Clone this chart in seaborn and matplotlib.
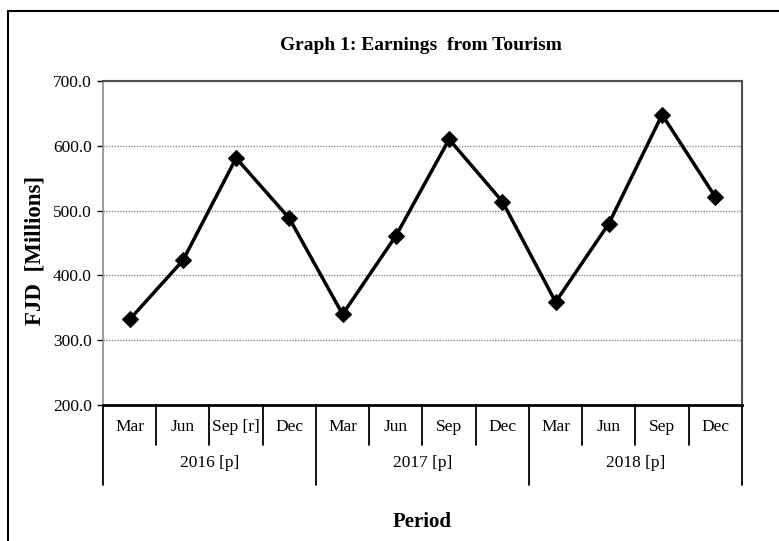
import matplotlib
matplotlib.use('Agg')
import matplotlib.pyplot as plt
import seaborn as sns
import pandas as pd
from matplotlib.patches import Rectangle

months = ["Mar", "Jun", "Sep [r]", "Dec", "Mar", "Jun", "Sep", "Dec", "Mar", "Jun", "Sep", "Dec"]
years = ["2016 [p]", "2017 [p]", "2018 [p]"]
earnings = [332, 423, 581, 488, 340, 461, 610, 514, 359, 480, 648, 521]
yticks = [200, 300, 400, 500, 600, 700]

sns.set_theme(style="white")
plt.rcParams['font.family'] = ['Liberation Serif', 'DejaVu Serif']
plt.rcParams['text.color'] = 'black'
plt.rcParams['xtick.color'] = 'black'
plt.rcParams['ytick.color'] = 'black'
plt.rcParams['xtick.labelcolor'] = 'black'
plt.rcParams['ytick.labelcolor'] = 'black'

W, H = 779, 541
fig = plt.figure(figsize=(W / 100, H / 100), dpi=100)
ax = fig.add_axes([103 / W, 1 - 405 / H, 639 / W, 324 / H])

df = pd.DataFrame({"idx": list(range(len(earnings))), "val": earnings})
sns.lineplot(data=df, x="idx", y="val", ax=ax, color="black", linewidth=2.5,
             marker="D", markersize=8.5, markeredgecolor="black", markerfacecolor="black")

ax.set_xlim(-0.5, len(months) - 0.5)
ax.set_ylim(200, 700)
ax.set_yticks(yticks)
ax.set_yticklabels([f"{v:.1f}" for v in yticks], fontsize=12.5)
ax.yaxis.grid(True, color="#8c8c8c", linestyle=(0, (1, 1)), linewidth=1)
ax.xaxis.grid(False)
ax.set_axisbelow(True)
ax.set_xlabel("")
ax.set_ylabel("")

for s in ["top", "right"]:
    ax.spines[s].set_color("#505050")
    ax.spines[s].set_linestyle((0, (1, 0.7)))
    ax.spines[s].set_linewidth(1.5)
ax.spines["left"].set_color("#8c8c8c")
ax.spines["left"].set_linewidth(1.2)
ax.spines["bottom"].set_color("black")
ax.spines["bottom"].set_linewidth(2)

ax.tick_params(axis="y", length=4, width=1, color="black", pad=4, left=True)
ax.set_xticks(range(len(months)))
ax.set_xticklabels(months, fontsize=12.5)
ax.tick_params(axis="x", length=0, pad=10)

trans = ax.get_xaxis_transform()
month_len = 40 / 324
year_len = 80 / 324
bounds = [i - 0.5 for i in range(len(months) + 1)]
for b in bounds:
    L = year_len if (b + 0.5) % 4 == 0 else month_len
    ax.plot([b, b], [0, -L], transform=trans, color="black", linewidth=1.3, clip_on=False)

for k, y in enumerate(years):
    ax.text(4 * k + 1.5, -(463 - 405) / 324, y, transform=trans, ha="center", va="center", fontsize=12.5)

fig.text(421 / W, 1 - 46 / H, "Graph 1: Earnings  from Tourism", ha="center", va="center",
         fontsize=14, fontweight="bold")
fig.text(35 / W, 1 - 250 / H, "FJD  [Millions]", ha="center", va="center", rotation=90,
         fontsize=16.5, fontweight="bold")
fig.text(422 / W, 1 - 522 / H, "Period", ha="center", va="center", fontsize=15, fontweight="bold")

fig.add_artist(Rectangle((8 / W, -0.1), 1.0, 1.1 - 11 / H, transform=fig.transFigure,
                         fill=False, edgecolor="black", linewidth=1.5))

fig.savefig("out.png", dpi=100)
